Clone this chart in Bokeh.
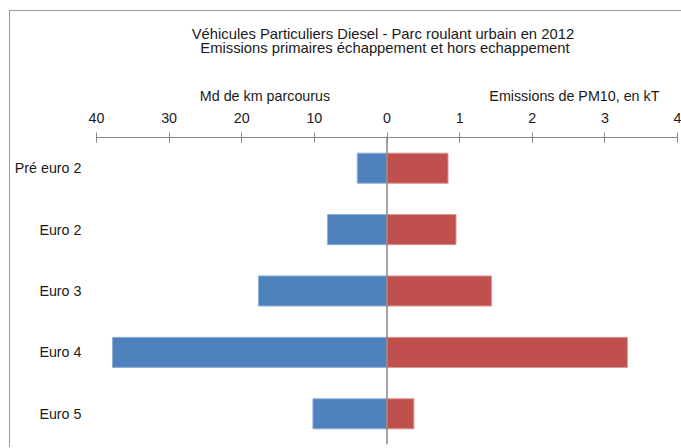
from bokeh.plotting import figure
from bokeh.layouts import column
from bokeh.models import Range1d, FactorRange, FixedTicker, Span
from bokeh.core.properties import value
from bokeh.embed import file_html
from bokeh.resources import INLINE

# ---- data ----
categories = ["Pré euro 2", "Euro 2", "Euro 3", "Euro 4", "Euro 5"]
km_values = [4.1, 8.2, 17.7, 37.8, 10.2]        # Md de km parcourus
pm10_values = [0.84, 0.95, 1.44, 3.31, 0.37]    # Emissions de PM10, en kT
km_ticks = [40, 30, 20, 10, 0]
pm10_ticks = [1, 2, 3, 4]
title_lines = ["Véhicules  Particuliers Diesel  - Parc roulant urbain en 2012",
               "Emissions  primaires échappement et hors echappement"]
km_title = "Md de km parcourus"
pm10_title = "Emissions de PM10, en kT"

KM_MAX = 40
PM_MAX = 4
FONT = "Liberation Sans"
FS = "14.3px"
TFS = "14.8px"
TXT = "#1a1a1a"
BLUE = "#4F81BD"
RED = "#C0504D"
GREY = "#868686"
W = 671
LEFT, RIGHT = 86, 4

xr = Range1d(-KM_MAX, KM_MAX)
pmr = Range1d(-PM_MAX, PM_MAX)

# ---- header (titles) ----
h = figure(width=W, height=96, x_range=xr, y_range=Range1d(0, 1),
           x_axis_location=None, y_axis_location=None,
           output_backend="svg", toolbar_location=None, outline_line_color=None,
           min_border_left=LEFT, min_border_right=RIGHT, min_border_top=0, min_border_bottom=0)
h.extra_x_ranges = {"pm": pmr}
h.xgrid.grid_line_color = None
h.ygrid.grid_line_color = None
h.text(x=[0, 0], y=[0.77, 0.615], text=title_lines, text_align="center",
       text_baseline="middle", text_font=value(FONT), text_font_size=TFS, text_color=TXT)
h.text(x=[-16.8], y=[0.125], text=[km_title], text_align="center",
       text_baseline="middle", text_font=value(FONT), text_font_size=FS, text_color=TXT)
h.text(x=[2.58], y=[0.125], text=[pm10_title], text_align="center",
       text_baseline="middle", text_font=value(FONT), text_font_size=FS, text_color=TXT,
       x_range_name="pm")

# ---- main chart ----
p = figure(
    width=W, height=340,
    x_range=xr,
    y_range=FactorRange(factors=list(reversed(categories)), range_padding=0),
    x_axis_location="above",
    output_backend="svg", toolbar_location=None,
    min_border_left=LEFT, min_border_right=RIGHT, min_border_top=30, min_border_bottom=3,
    outline_line_color=None,
)
p.extra_x_ranges = {"pm": pmr}

p.hbar(y=categories, left=[-v for v in km_values], right=0, height=0.49,
       fill_color=BLUE, line_color="#8fb0d8", line_width=1)
p.hbar(y=categories, left=0, right=pm10_values, height=0.49,
       fill_color=RED, line_color="#d99694", line_width=1, x_range_name="pm")

p.add_layout(Span(location=0, dimension="height", line_color=GREY, line_width=1.5))

scale = KM_MAX / PM_MAX
ticks = [-t for t in km_ticks] + [t * scale for t in pm10_ticks]
overrides = {-t: str(t) for t in km_ticks}
overrides.update({t * scale: str(t) for t in pm10_ticks})
ax = p.xaxis[0]
ax.ticker = FixedTicker(ticks=ticks)
ax.major_label_overrides = overrides
ax.axis_line_color = GREY
ax.major_tick_line_color = GREY
ax.major_tick_in = 5
ax.major_tick_out = 5
ax.minor_tick_line_color = None
ax.major_label_text_font = FONT
ax.major_label_text_font_size = FS
ax.major_label_text_color = TXT
ax.major_label_standoff = 10

yax = p.yaxis[0]
yax.axis_line_color = None
yax.major_tick_line_color = None
yax.minor_tick_line_color = None
yax.major_tick_in = 0
yax.major_tick_out = 0
yax.minor_tick_in = 0
yax.minor_tick_out = 0
yax.major_label_text_font = FONT
yax.major_label_text_font_size = FS
yax.major_label_text_color = TXT
yax.major_label_standoff = 15

p.xgrid.grid_line_color = None
p.ygrid.grid_line_color = None

layout = column(h, p, spacing=0)
layout.styles = {"border-top": "1px solid #9a9a9a", "border-left": "1px solid #9a9a9a",
                 "margin-left": "9px", "margin-top": "10px"}

open("out.html", "w").write(file_html(layout, INLINE))
